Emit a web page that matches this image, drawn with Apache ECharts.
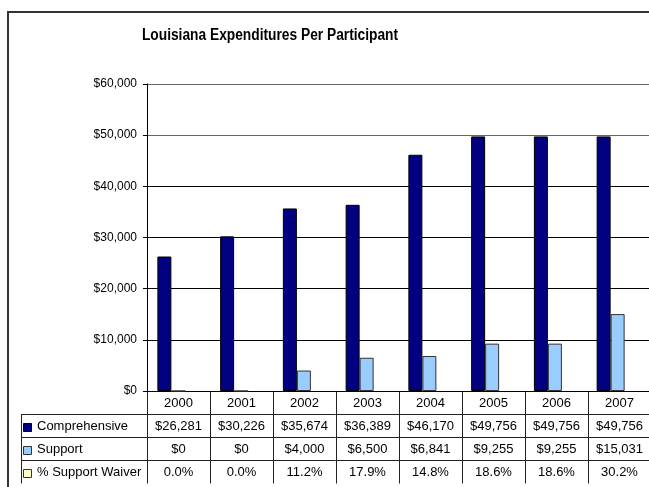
<!DOCTYPE html>
<html>
<head>
<meta charset="utf-8">
<script src="https://cdn.jsdelivr.net/npm/echarts@6/dist/echarts.min.js"></script>
<style>
  html, body { margin: 0; padding: 0; background: #fff; }
  #chart { width: 649px; height: 487px; }
</style>
</head>
<body>
<div id="chart"></div>
<script>
// Louisiana expenditures per participant, 2000–2007
const years = ['2000', '2001', '2002', '2003', '2004', '2005', '2006', '2007'];
const comprehensive = [26281, 30226, 35674, 36389, 46170, 49756, 49756, 49756];
const support = [0, 0, 4000, 6500, 6841, 9255, 9255, 15031];
const supportWaiverPct = [0.0, 0.0, 11.2, 17.9, 14.8, 18.6, 18.6, 30.2];
const seriesNames = ['Comprehensive', 'Support', '% Support Waiver'];
const seriesColors = ['#000080', '#99CCFF', '#FFFFCC'];
const titleText = 'Louisiana Expenditures Per Participant';
const yMin = 0, yMax = 60000, yStep = 10000;

const FONT = '"Liberation Sans", Arial, sans-serif';

// layout of the plot and the data table beneath it
const grid = { left: 147, top: 84, width: 504, height: 307 };
const tableLeft = 21;
const rowH = 23;

const money = v => '$' + v.toLocaleString('en-US');
const pct = v => v.toFixed(1) + '%';

const chart = echarts.init(document.getElementById('chart'), null, { renderer: 'canvas' });

// data-table graphics, aligned with the category axis
function tableGraphics() {
  const g = [];
  const n = years.length;
  const colW = grid.width / n;
  const bottom = grid.top + grid.height;
  const right = grid.left + grid.width;
  const rows = [
    { name: seriesNames[0], color: seriesColors[0], border: '#000', vals: comprehensive.map(money) },
    { name: seriesNames[1], color: seriesColors[1], border: '#333', vals: support.map(money) },
    { name: seriesNames[2], color: seriesColors[2], border: '#333', vals: supportWaiverPct.map(pct) }
  ];
  const lineStyle = { stroke: '#222', lineWidth: 1 };
  // horizontal rules
  for (let r = 1; r <= rows.length; r++) {
    const y = bottom + r * rowH + 0.5;
    g.push({ type: 'line', shape: { x1: tableLeft, y1: y, x2: right, y2: y }, style: lineStyle, silent: true });
  }
  const tableBottom = bottom + (rows.length + 1) * rowH;
  // vertical rules
  g.push({ type: 'line', shape: { x1: tableLeft + 0.5, y1: bottom + rowH, x2: tableLeft + 0.5, y2: tableBottom + 0.5 }, style: lineStyle, silent: true });
  for (let i = 0; i <= n; i++) {
    const x = Math.round(grid.left + i * colW) + 0.5;
    g.push({ type: 'line', shape: { x1: x, y1: bottom, x2: x, y2: tableBottom + 0.5 }, style: lineStyle, silent: true });
  }
  // year header
  years.forEach((y, i) => {
    g.push({ type: 'text', x: grid.left + (i + 0.5) * colW, y: bottom + rowH / 2 + 1,
      style: { text: y, fontSize: 13, fontFamily: FONT, fill: '#000', align: 'center', verticalAlign: 'middle' }, silent: true });
  });
  // series rows
  rows.forEach((row, r) => {
    const cy = bottom + (r + 1.5) * rowH + 1;
    g.push({ type: 'rect', shape: { x: tableLeft + 2.5, y: Math.round(cy - 4) + 0.5, width: 8, height: 8 },
      style: { fill: row.color, stroke: row.border, lineWidth: 1 }, silent: true });
    g.push({ type: 'text', x: tableLeft + 16, y: cy,
      style: { text: row.name, fontSize: 13, fontFamily: FONT, fill: '#000', align: 'left', verticalAlign: 'middle' }, silent: true });
    row.vals.forEach((v, i) => {
      g.push({ type: 'text', x: grid.left + (i + 0.5) * colW, y: cy,
        style: { text: v, fontSize: 13, fontFamily: FONT, fill: '#000', align: 'center', verticalAlign: 'middle' }, silent: true });
    });
  });
  // chart title, in a tall condensed bold face
  g.push({ type: 'text', x: 270, y: 36, scaleX: 0.86,
    style: { text: titleText, fontSize: 16, fontWeight: 'bold', fontFamily: FONT, fill: '#000', align: 'center', verticalAlign: 'middle' },
    silent: true });
  // outer chart frame
  g.push({ type: 'rect', shape: { x: 8, y: 12, width: 800, height: 700 },
    style: { fill: 'none', stroke: '#333', lineWidth: 2 }, silent: true, z: 100 });
  return g;
}

chart.setOption({
  animation: false,
  backgroundColor: '#fff',
  grid: grid,
  xAxis: {
    type: 'category',
    data: years,
    axisLine: { show: true, lineStyle: { color: '#000', width: 1 } },
    axisTick: { show: false },
    axisLabel: { show: false },
    splitLine: { show: false }
  },
  yAxis: {
    type: 'value',
    min: yMin, max: yMax, interval: yStep,
    axisLine: { show: true, lineStyle: { color: '#000', width: 1 } },
    axisTick: { show: true, length: 4, lineStyle: { color: '#000' } },
    axisLabel: { formatter: v => money(v), fontFamily: FONT, fontSize: 12, color: '#000', margin: 10 },
    splitLine: { show: true, lineStyle: { color: ['#000', '#000', '#000', '#000', '#000', '#666', '#666'], width: 1 } }
  },
  series: [
    { name: seriesNames[0], type: 'bar', data: comprehensive, barWidth: 14, barGap: '0%',
      itemStyle: { color: seriesColors[0], borderColor: '#000', borderWidth: 1 } },
    { name: seriesNames[1], type: 'bar', data: support, barWidth: 14, barGap: '0%',
      itemStyle: { color: seriesColors[1], borderColor: '#333', borderWidth: 1 } },
    { name: seriesNames[2], type: 'bar', data: supportWaiverPct.map(v => v / 100), barWidth: 14, barGap: '0%',
      itemStyle: { color: seriesColors[2], borderWidth: 0 } }
  ],
  graphic: tableGraphics()
});
</script>
</body>
</html>
